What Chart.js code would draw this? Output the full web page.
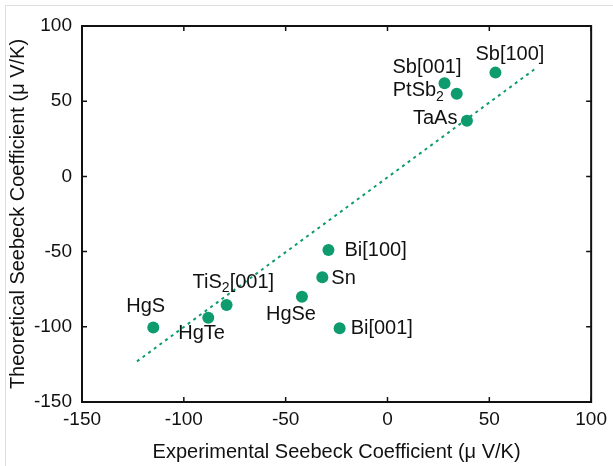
<!DOCTYPE html>
<html>
<head>
<meta charset="utf-8">
<script src="https://cdn.jsdelivr.net/npm/chart.js@4"></script>
<style>
html,body{margin:0;padding:0;background:#fff;}
#wrap{width:613px;height:466px;position:relative;}
</style>
</head>
<body>
<div id="wrap"><canvas id="c" width="613" height="466"></canvas></div>
<script>
// ---- data ----
const materials = ['Sb[001]','Sb[100]','PtSb_2','TaAs','Bi[100]','Sn','HgSe','Bi[001]','TiS_2[001]','HgTe','HgS'];
const experimental = [28, 53, 34, 39, -29, -32, -42, -23.5, -79, -88, -115];
const theoretical  = [62, 69, 55, 37, -49, -67, -80, -101, -85.5, -94, -100.5];
const fitX = [-123, 73];
const fitY = [-123, 72];
const tickValues = [-150, -100, -50, 0, 50, 100];

// label placement (pixels relative to the marker): styling only
const labelOffsets = [[-52,-16],[-20,-18],[-64,-3],[-54,-2],[16,0],[9,1],[-36,18],[11,0],[-34,-23],[-30,16],[-27,-21]];

const green = '#0e9b6e';
const FONT = '"Liberation Sans", Arial, Helvetica, sans-serif';

const frame = {
  id: 'frame',
  beforeDraw(chart) {
    const ctx = chart.ctx;
    ctx.save();
    ctx.strokeStyle = '#dddddd';
    ctx.lineWidth = 1;
    ctx.beginPath();
    ctx.moveTo(5.5, 466); ctx.lineTo(5.5, 5.5); ctx.lineTo(613, 5.5);
    ctx.stroke();
    ctx.restore();
  },
  afterDraw(chart) {
    const {ctx, chartArea: a, scales} = chart;
    ctx.save();
    ctx.strokeStyle = '#111';
    ctx.lineWidth = 1.5;
    const tl = 5;
    ctx.beginPath();
    tickValues.forEach(v => {
      const x = scales.x.getPixelForValue(v);
      ctx.moveTo(x, a.bottom); ctx.lineTo(x, a.bottom - tl);
      ctx.moveTo(x, a.top); ctx.lineTo(x, a.top + tl);
      const y = scales.y.getPixelForValue(v);
      ctx.moveTo(a.left, y); ctx.lineTo(a.left + tl, y);
      ctx.moveTo(a.right, y); ctx.lineTo(a.right - tl, y);
    });
    ctx.stroke();
    ctx.lineWidth = 2;
    ctx.strokeRect(a.left, a.top, a.right - a.left, a.bottom - a.top);
    ctx.restore();
  }
};

const pointLabels = {
  id: 'pointLabels',
  afterDatasetsDraw(chart) {
    const meta = chart.getDatasetMeta(1);
    const ctx = chart.ctx;
    ctx.save();
    ctx.fillStyle = '#111';
    ctx.textBaseline = 'middle';
    ctx.textAlign = 'left';
    const fs = 20;
    meta.data.forEach((pt, i) => {
      const [dx, dy] = labelOffsets[i];
      let x = pt.x + dx, y = pt.y + dy;
      const parts = materials[i].split('_');
      ctx.font = fs + 'px ' + FONT;
      ctx.fillText(parts[0], x, y);
      x += ctx.measureText(parts[0]).width;
      if (parts.length > 1) {
        const sub = parts[1][0];
        const rest = parts[1].slice(1);
        ctx.font = Math.round(fs * 0.7) + 'px ' + FONT;
        ctx.fillText(sub, x, y + 6);
        x += ctx.measureText(sub).width;
        ctx.font = fs + 'px ' + FONT;
        if (rest) ctx.fillText(rest, x, y);
      }
    });
    ctx.restore();
  }
};

new Chart(document.getElementById('c'), {
  type: 'scatter',
  data: {
    datasets: [
      {
        data: fitX.map((x, i) => ({x, y: fitY[i]})),
        showLine: true,
        borderColor: green,
        borderWidth: 2,
        borderDash: [3, 4],
        pointRadius: 0,
        fill: false
      },
      {
        data: experimental.map((x, i) => ({x, y: theoretical[i]})),
        backgroundColor: green,
        borderColor: green,
        pointRadius: 6,
        borderWidth: 0
      }
    ]
  },
  options: {
    responsive: false,
    animation: false,
    devicePixelRatio: 1,
    layout: { padding: { top: 26, right: 21, left: 0, bottom: 0 } },
    plugins: { legend: { display: false }, tooltip: { enabled: false } },
    scales: {
      x: {
        type: 'linear', min: -150, max: 100,
        afterFit(s) { s.height = 64; },
        afterBuildTicks(s) { s.ticks = tickValues.map(v => ({value: v})); },
        grid: { display: false, drawTicks: false },
        border: { display: false },
        ticks: { color: '#111', font: { family: FONT, size: 19 }, padding: 6, maxRotation: 0, autoSkip: false },
        title: { display: true, text: 'Experimental Seebeck Coefficient (μ V/K)', color: '#111', font: { family: FONT, size: 20 }, padding: { top: 0, bottom: 2 } }
      },
      y: {
        type: 'linear', min: -150, max: 100,
        afterFit(s) { s.width = 82; },
        afterBuildTicks(s) { s.ticks = tickValues.map(v => ({value: v})); },
        grid: { display: false, drawTicks: false },
        border: { display: false },
        ticks: { color: '#111', font: { family: FONT, size: 19 }, padding: 10, autoSkip: false },
        title: { display: true, text: 'Theoretical Seebeck Coefficient (μ V/K)', color: '#111', font: { family: FONT, size: 20 }, padding: { top: 6, bottom: 0 } }
      }
    }
  },
  plugins: [frame, pointLabels]
});
</script>
</body>
</html>
